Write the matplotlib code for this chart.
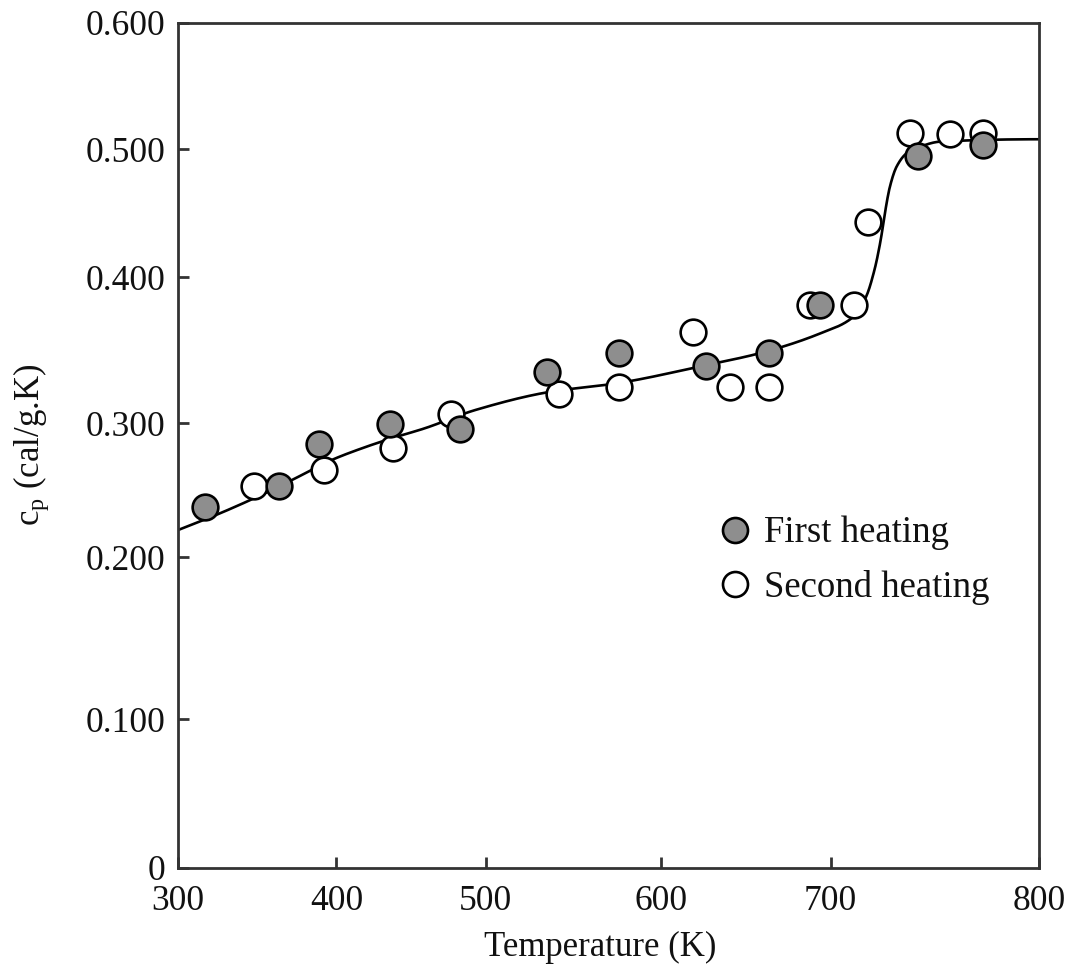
import numpy as np
import matplotlib
matplotlib.use("Agg")
import matplotlib.pyplot as plt
from matplotlib.lines import Line2D

plt.rcParams['font.family'] = ['Liberation Serif', 'DejaVu Serif']
plt.rcParams['mathtext.fontset'] = 'custom'
plt.rcParams['mathtext.rm'] = 'Liberation Serif'

# ---- data ----
first_T = [317, 364, 389, 436, 483, 535, 576, 627, 664, 694, 742, 773]
first_cp = [0.237, 0.253, 0.284, 0.299, 0.2955, 0.335, 0.348, 0.339, 0.348, 0.381, 0.4945, 0.503]

second_T = [348, 392, 438, 477, 542, 576, 619, 641, 664, 688, 711, 718, 738, 757, 773]
second_cp = [0.253, 0.265, 0.281, 0.306, 0.320, 0.325, 0.362, 0.325, 0.325, 0.381, 0.381, 0.443, 0.513, 0.512, 0.513]

curve_T = [300, 319, 348, 372, 397, 417, 437, 459, 493, 537, 575, 627, 658,
           694, 711, 717, 721, 724, 726, 728.4, 731.6, 736.4, 742.8, 752.4, 800]
curve_cp = [0.2201, 0.2289, 0.2438, 0.2575, 0.2724, 0.2811, 0.2886, 0.2960, 0.3089,
            0.3214, 0.3272, 0.3397, 0.3477, 0.3614, 0.3728, 0.3865, 0.4055,
            0.4290, 0.4498, 0.4705, 0.4862, 0.4966, 0.5018, 0.5058, 0.5077]

x_ticks = [300, 400, 500, 600, 700, 800]
x_ticklabels = ['300', '400', '500', '600', '700', '800']
y_ticks = [0.0, 0.1, 0.2, 0.3, 0.4, 0.5, 0.6]
y_ticklabels = ['0', '0.100', '0.200', '0.300', '0.400', '0.500', '0.600']

# ---- axis calibration of the original (non-uniformly spaced ticks) ----
x_cal = [0, 158.4, 307.7, 482.4, 652.4, 861.0]
y_cal = [0, 149, 311, 445, 591, 719, 845.5]


def make_scale(ticks, cal):
    t = np.asarray(ticks, float)
    c = np.asarray(cal, float)

    def fwd(v):
        v = np.asarray(v, float)
        out = np.interp(v, t, c)
        out = np.where(v < t[0], c[0] + (v - t[0]) * (c[1] - c[0]) / (t[1] - t[0]), out)
        out = np.where(v > t[-1], c[-1] + (v - t[-1]) * (c[-1] - c[-2]) / (t[-1] - t[-2]), out)
        return out

    def inv(p):
        p = np.asarray(p, float)
        out = np.interp(p, c, t)
        out = np.where(p < c[0], t[0] + (p - c[0]) * (t[1] - t[0]) / (c[1] - c[0]), out)
        out = np.where(p > c[-1], t[-1] + (p - c[-1]) * (t[-1] - t[-2]) / (c[-1] - c[-2]), out)
        return out
    return fwd, inv


def pchip(x, y, xn):
    x = np.asarray(x, float); y = np.asarray(y, float)
    h = np.diff(x); d = np.diff(y) / h
    m = np.zeros_like(y)
    for k in range(1, len(x) - 1):
        if d[k - 1] * d[k] > 0:
            w1 = 2 * h[k] + h[k - 1]
            w2 = h[k] + 2 * h[k - 1]
            m[k] = (w1 + w2) / (w1 / d[k - 1] + w2 / d[k])
    m[0] = d[0]; m[-1] = 0.0
    idx = np.clip(np.searchsorted(x, xn) - 1, 0, len(x) - 2)
    t = (xn - x[idx]) / h[idx]
    h00 = 2 * t**3 - 3 * t**2 + 1
    h10 = t**3 - 2 * t**2 + t
    h01 = -2 * t**3 + 3 * t**2
    h11 = t**3 - t**2
    return h00 * y[idx] + h10 * h[idx] * m[idx] + h01 * y[idx + 1] + h11 * h[idx] * m[idx + 1]


xf, xi = make_scale(x_ticks, x_cal)
yf, yi = make_scale(y_ticks, y_cal)

fig = plt.figure(figsize=(10.69, 9.66), dpi=100)
ax = fig.add_axes([178 / 1069, 1 - 868 / 966, 861.3 / 1069, 845.5 / 966])
ax.set_xscale('function', functions=(xf, xi))
ax.set_yscale('function', functions=(yf, yi))

# smooth curve, interpolated in display space
cx = xf(curve_T); cy = yf(curve_cp)
sx = np.linspace(cx[0], cx[-1], 1000)
sy = pchip(cx, cy, sx)
ax.plot(xi(sx), yi(sy), color='black', lw=1.9, zorder=2, solid_capstyle='butt')

ms = 18.5
mew = 1.9
ax.plot(second_T, second_cp, 'o', ls='none', ms=ms, mfc='white', mec='black', mew=mew, zorder=3)
ax.plot(first_T, first_cp, 'o', ls='none', ms=ms, mfc='#8e8e8e', mec='black', mew=mew, zorder=4)

ax.set_xlim(300, 800)
ax.set_ylim(0, 0.6)
ax.set_xticks(x_ticks)
ax.set_xticklabels(x_ticklabels)
ax.set_yticks(y_ticks)
ax.set_yticklabels(y_ticklabels)
ax.minorticks_off()

for s in ax.spines.values():
    s.set_linewidth(2.0)
    s.set_color('#333333')
ax.tick_params(axis='both', direction='in', length=8, width=2.0, color='#333333',
               labelsize=25.5, labelcolor='#111111')
ax.tick_params(axis='x', pad=12)
ax.tick_params(axis='y', pad=9)

ax.set_xlabel('Temperature (K)', fontsize=25, color='#111111')
ax.xaxis.set_label_coords(0.49, -0.074)
ax.set_ylabel(r'$\mathrm{c_p}$ (cal/g.K)', fontsize=25, color='#111111')
ax.yaxis.set_label_coords(-0.147, 0.5)

h1 = Line2D([], [], marker='o', ls='none', ms=18, mfc='#8e8e8e', mec='black', mew=mew)
h2 = Line2D([], [], marker='o', ls='none', ms=18, mfc='white', mec='black', mew=mew)
leg = ax.legend([h1, h2], ['First heating', 'Second heating'], loc='upper left',
                bbox_to_anchor=((720 - 178) / 861.3, (868 - 516) / 845.5), frameon=False,
                fontsize=26.5, handlelength=0.8, handletextpad=0.4, labelspacing=0.52,
                borderaxespad=0, borderpad=0)
for t in leg.get_texts():
    t.set_color('#111111')

fig.savefig('out.png', dpi=100)
